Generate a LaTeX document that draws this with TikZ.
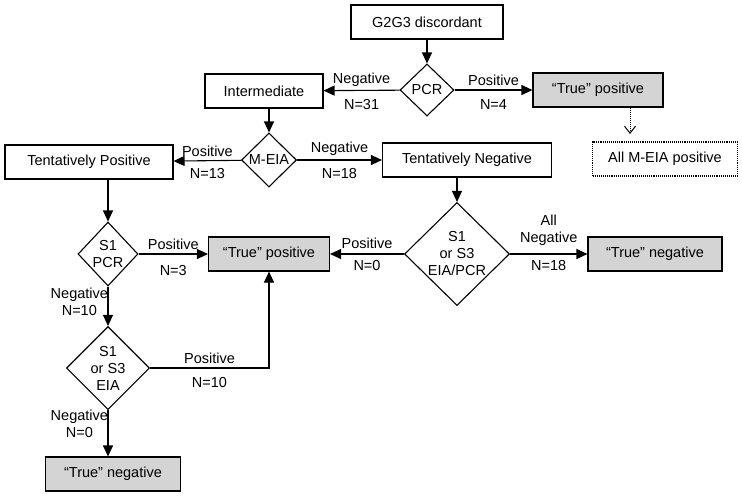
\documentclass[tikz,border=0pt]{standalone}
\usepackage{fontspec}
\setmainfont{Liberation Sans}
\usetikzlibrary{shapes,arrows.meta,positioning,calc}

\tikzset{
    box/.style={draw, line width=1.1pt, minimum height=34pt, inner sep=2pt},
    shaded/.style={box, fill=black!17},
    decide/.style={diamond, draw, line width=1.1pt, inner sep=0pt, align=center, fill=white},
    flow/.style={line width=1.1pt, -{Triangle[length=11pt,width=10pt]}},
    lab/.style={inner sep=1.5pt, align=center}
}

\begin{document}
\begin{tikzpicture}[x=1pt, y=-1pt, font=\fontsize{14.5pt}{17pt}\selectfont]
    \useasboundingbox (0,0) rectangle (742,496);
    % Top: discordant samples and PCR
    \node[box, minimum width=152pt] (g2g3) at (427,22) {G2G3 discordant};
    \node[decide, minimum width=54pt, minimum height=52pt] (pcr) at (427,90) {PCR};
    \node[box, minimum width=118pt] (inter) at (264,91) {Intermediate};
    \node[shaded, minimum width=130pt] (tpa) at (598,90) {“True” positive};
    \coordinate (tip) at (630,134);
    \node[box, densely dotted, minimum width=145pt] (allmeia) at (665,159) {All M-EIA positive};
    \draw[flow] (g2g3) -- (pcr);
    \draw[flow] (pcr) -- (inter) node[lab, midway, above=2pt] (l1) {Negative} node[lab, midway, below=7pt] (n1) {N=31};
    \draw[flow] (pcr) -- (tpa) node[lab, midway, above=2pt] (l2) {Positive} node[lab, midway, below=7pt] (n2) {N=4};
    \draw[densely dotted, line width=1pt, -{Straight Barb[length=7pt,width=11pt,line width=1pt]}] (tip |- tpa.south) -- (tip);

    % M-EIA step
    \node[decide, minimum width=55pt, minimum height=54pt] (meia) at (269,160) {M-EIA};
    \node[box, minimum width=168pt] (tentpos) at (89,162) {Tentatively Positive};
    \node[box, minimum width=169pt] (tentneg) at (467,160) {Tentatively Negative};
    \draw[flow] (meia.north |- inter.south) -- (meia);
    \draw[flow] (meia) -- (tentpos) node[lab, midway, above=2pt] (l3) {Positive} node[lab, midway, below=6pt] (n3) {N=13};
    \draw[flow] (meia) -- (tentneg) node[lab, midway, above=2pt] (l4) {Negative} node[lab, midway, below=6pt] (n4) {N=18};

    % Tentatively negative branch
    \node[decide, minimum width=105pt, minimum height=103pt] (big) at (457,254) {S1\\or S3\\EIA/PCR};
    \node[shaded, minimum width=134pt] (tna) at (655,254) {“True” negative};
    \node[shaded, minimum width=121pt] (tpb) at (269,254) {“True” positive};
    \draw[flow] (big.north |- tentneg.south) -- (big);
    \draw[flow] (big) -- (tpb) node[lab, midway, above=3pt] (l5) {Positive} node[lab, midway, below=4pt] (n5) {N=0};
    \draw[flow] (big) -- (tna) node[lab, midway, above=6pt] (l6) {All\\Negative} node[lab, midway, below=4pt] (n6) {N=18};

    % Tentatively positive branch
    \node[decide, minimum width=60pt, minimum height=64pt] (s1pcr) at (108,254) {S1\\PCR};
    \node[decide, minimum width=83pt, minimum height=83pt] (eia) at (108,368) {S1\\or S3\\EIA};
    \node[shaded, minimum width=135pt] (tnb) at (113,474) {“True” negative};
    \draw[flow] (s1pcr.north |- tentpos.south) -- (s1pcr);
    \draw[flow] (s1pcr) -- (tpb) node[lab, midway, above=2pt] (l7) {Positive} node[lab, midway, below=9pt] (n7) {N=3};
    \draw[flow] (s1pcr) -- (eia) node[lab, pos=0.4, left, xshift=2pt] (l8) {Negative\\N=10};
    \draw[flow] (eia.east) -| (tpb.south) node[lab, pos=0.25, above=2pt] (l9) {Positive} node[lab, pos=0.25, below=7pt] (n9) {N=10};
    \draw[flow] (eia.south) -- (eia.south |- tnb.north) node[lab, pos=0.3, left, xshift=2pt] (l10) {Negative\\N=0};
\end{tikzpicture}
\end{document}
